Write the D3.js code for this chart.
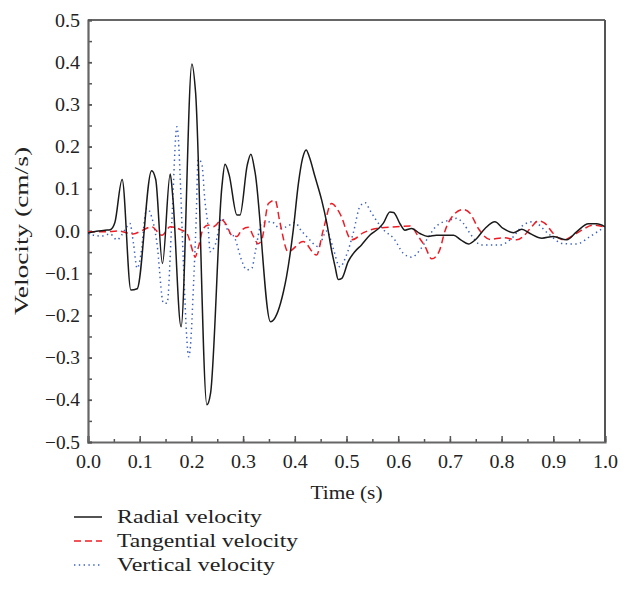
<!DOCTYPE html>
<html><head><meta charset="utf-8">
<script src="https://cdn.jsdelivr.net/npm/d3@7"></script>
<style>body{margin:0;background:#fff}svg{display:block}text{font-family:"Liberation Serif","DejaVu Serif",serif;fill:#222}</style>
</head><body><div id="chart"></div>
<script>
const radialT = [0,0.020,0.033,0.043,0.052,0.066,0.083,0.095,0.123,0.131,0.144,0.159,0.164,0.180,0.201,0.208,0.230,0.237,0.259,0.265,0.273,0.288,0.294,0.308,0.315,0.323,0.353,0.357,0.378,0.384,0.397,0.407,0.415,0.422,0.428,0.439,0.452,0.462,0.471,0.478,0.484,0.491,0.503,0.516,0.529,0.545,0.562,0.571,0.584,0.591,0.604,0.613,0.626,0.642,0.658,0.674,0.707,0.721,0.736,0.749,0.768,0.787,0.803,0.823,0.839,0.855,0.878,0.900,0.926,0.945,0.968,0.984,1.000];
const radialV = [-0.005,0.000,0.002,0.003,0.02,0.122,-0.14,-0.137,0.143,0.122,-0.077,0.135,0.081,-0.227,0.396,0.33,-0.412,-0.385,0.105,0.158,0.133,0.038,0.038,0.156,0.182,0.14,-0.215,-0.213,-0.144,-0.108,0.002,0.113,0.172,0.192,0.176,0.129,0.073,0.018,-0.045,-0.085,-0.115,-0.112,-0.073,-0.049,-0.033,-0.01,0.006,0.018,0.045,0.044,0.016,0.002,0.006,-0.006,-0.013,-0.01,-0.01,-0.021,-0.031,-0.021,0.006,0.022,0.006,-0.004,0.004,-0.006,-0.017,-0.013,-0.021,-0.002,0.017,0.017,0.01];

const tangT = [0,0.033,0.058,0.087,0.106,0.123,0.143,0.159,0.181,0.191,0.204,0.207,0.213,0.223,0.233,0.242,0.259,0.268,0.278,0.288,0.297,0.310,0.320,0.329,0.336,0.349,0.362,0.371,0.387,0.416,0.442,0.455,0.471,0.487,0.510,0.533,0.558,0.597,0.623,0.639,0.652,0.665,0.679,0.691,0.707,0.726,0.739,0.755,0.778,0.803,0.829,0.842,0.858,0.871,0.884,0.900,0.919,0.935,0.955,0.977,1.0];
const tangV = [-0.002,-0.002,0.0,-0.007,0.002,0.01,-0.01,0.01,0.002,-0.005,-0.053,-0.062,-0.041,0.006,0.014,0.01,0.026,0.014,-0.01,-0.013,0.002,0.009,-0.013,-0.03,-0.021,0.065,0.073,0.022,-0.049,-0.025,-0.057,0.002,0.065,0.042,-0.021,-0.004,0.006,0.01,0.012,-0.013,-0.037,-0.066,-0.049,0.002,0.038,0.051,0.042,0.006,-0.02,-0.016,-0.021,-0.013,0.01,0.024,0.018,-0.006,-0.021,-0.013,0.002,0.014,0.009];

const vertT = [0,0.026,0.043,0.056,0.065,0.075,0.081,0.088,0.095,0.104,0.110,0.114,0.123,0.133,0.146,0.153,0.162,0.172,0.175,0.178,0.184,0.195,0.198,0.204,0.209,0.213,0.220,0.226,0.233,0.236,0.246,0.259,0.271,0.284,0.297,0.307,0.317,0.323,0.336,0.355,0.371,0.384,0.400,0.413,0.426,0.445,0.462,0.474,0.487,0.500,0.513,0.526,0.536,0.545,0.555,0.574,0.591,0.610,0.626,0.642,0.655,0.674,0.700,0.713,0.726,0.739,0.761,0.781,0.797,0.820,0.842,0.861,0.890,0.919,0.945,0.971,1.0];
const vertV = [-0.007,-0.012,-0.007,-0.021,-0.01,0.01,0.018,-0.03,-0.088,-0.04,0.034,0.054,0.034,-0.025,-0.171,-0.171,0.02,0.247,0.216,0.137,-0.06,-0.298,-0.275,-0.13,0.02,0.17,0.16,0.073,0.0,-0.049,-0.033,0.03,0.0,-0.017,-0.069,-0.092,-0.088,-0.053,0.018,0.022,0.006,0.01,0.02,0.0,-0.017,-0.037,0.0,-0.04,-0.085,-0.057,-0.005,0.058,0.067,0.05,0.03,0.0,-0.017,-0.053,-0.062,-0.045,-0.021,0.012,0.026,0.03,0.018,-0.006,-0.033,-0.033,-0.033,-0.017,0.014,0.022,-0.006,-0.03,-0.031,-0.013,0.01];

const xTicks = [0,0.1,0.2,0.3,0.4,0.5,0.6,0.7,0.8,0.9,1.0];
const yTicks = [-0.5,-0.4,-0.3,-0.2,-0.1,0,0.1,0.2,0.3,0.4,0.5];
const seriesNames = ["Radial velocity","Tangential velocity","Vertical velocity"];

const W = 628, H = 601;
const m = {left: 88, top: 20, right: 23, bottom: 159};
const svg = d3.select("#chart").append("svg").attr("width", W).attr("height", H);
const x = d3.scaleLinear().domain([0,1]).range([m.left, W - m.right]);
const y = d3.scaleLinear().domain([-0.5,0.5]).range([H - m.bottom, m.top]);
const fmt = v => (v < 0 ? "\u2212" : "") + Math.abs(v).toFixed(1);

// frame top and right
svg.append("line").attr("x1", x(0)).attr("x2", x(1)).attr("y1", y(0.5)).attr("y2", y(0.5)).attr("stroke", "#333").attr("stroke-width", 1.5);
svg.append("line").attr("x1", x(1)).attr("x2", x(1)).attr("y1", y(0.5)).attr("y2", y(-0.5)).attr("stroke", "#555").attr("stroke-width", 2);

// X axis (ticks inward)
const xMinor = d3.range(0, 1.0001, 0.05);
const gx = svg.append("g").attr("transform", `translate(0,${y(-0.5)})`);
gx.call(d3.axisBottom(x).tickValues(xMinor).tickSize(-3).tickFormat(""));
gx.selectAll(".tick line").attr("stroke", "#555").attr("stroke-width", 1.5);
gx.select(".domain").remove();
const gx2 = svg.append("g").attr("transform", `translate(0,${y(-0.5)})`);
gx2.call(d3.axisBottom(x).tickValues(xTicks).tickSize(-6).tickPadding(13).tickFormat(d => d.toFixed(1)));
gx2.selectAll(".tick line").attr("stroke", "#555").attr("stroke-width", 1.5);
gx2.selectAll("text").attr("font-size", 19).attr("font-family", "Liberation Serif").attr("fill", "#222")
   .attr("textLength", 25).attr("lengthAdjust", "spacingAndGlyphs");
gx2.select(".domain").attr("stroke", "#666").attr("stroke-width", 2.2);

// Y axis
const yMinor = d3.range(-0.5, 0.5001, 0.05);
const gy = svg.append("g").attr("transform", `translate(${x(0)},0)`);
gy.call(d3.axisLeft(y).tickValues(yMinor).tickSize(-4).tickFormat(""));
gy.selectAll(".tick line").attr("stroke", "#555").attr("stroke-width", 1.5);
gy.select(".domain").remove();
const gy2 = svg.append("g").attr("transform", `translate(${x(0)},0)`);
gy2.call(d3.axisLeft(y).tickValues(yTicks).tickSize(-4).tickPadding(8).tickFormat(fmt));
gy2.selectAll(".tick line").attr("stroke", "#555").attr("stroke-width", 1.5);
gy2.selectAll("text").attr("font-size", 19).attr("font-family", "Liberation Serif").attr("fill", "#222")
   .attr("textLength", d => d < 0 ? 35 : 25).attr("lengthAdjust", "spacingAndGlyphs");
gy2.select(".domain").attr("stroke", "#666").attr("stroke-width", 2.2);

// titles
svg.append("text").attr("x", (x(0)+x(1))/2).attr("y", 499).attr("text-anchor", "middle").attr("font-size", 19)
  .attr("textLength", 72).attr("lengthAdjust", "spacingAndGlyphs").text("Time (s)");
svg.append("text").attr("transform", `translate(28,${(y(0.5)+y(-0.5))/2}) rotate(-90)`).attr("text-anchor", "middle").attr("font-size", 19)
  .attr("textLength", 168).attr("lengthAdjust", "spacingAndGlyphs").text("Velocity (cm/s)");

// lines
svg.append("clipPath").attr("id", "c").append("rect").attr("x", x(0)).attr("y", y(0.5)).attr("width", x(1)-x(0)).attr("height", y(-0.5)-y(0.5));
const line = d3.line().x(d => x(d[0])).y(d => y(d[1])).curve(d3.curveMonotoneX);
const series = [
  {t: radialT, v: radialV, color: "#1a1a1a", dash: null, w: 1.5},
  {t: tangT, v: tangV, color: "#ee1c25", dash: "7,4", w: 1.5},
  {t: vertT, v: vertV, color: "#3a5fc0", dash: "1.4,3.4", w: 1.5}
];
[2, 1, 0].forEach(i => {
  const s = series[i];
  svg.append("path").attr("clip-path", "url(#c)")
    .datum(s.t.map((t, k) => [t, s.v[k]]))
    .attr("d", line).attr("fill", "none")
    .attr("stroke", s.color).attr("stroke-width", s.w)
    .attr("stroke-dasharray", s.dash);
});

// legend
const legendLen = [145, 181, 158];
const lg = svg.append("g");
seriesNames.forEach((name, i) => {
  const s = series[i];
  const yy = 517 + i * 24;
  lg.append("line").attr("x1", 74).attr("x2", 102).attr("y1", yy).attr("y2", yy)
    .attr("stroke", s.color).attr("stroke-width", s.w).attr("stroke-dasharray", s.dash);
  lg.append("text").attr("x", 117).attr("y", yy + 6).attr("font-size", 19)
    .attr("textLength", legendLen[i]).attr("lengthAdjust", "spacingAndGlyphs").text(name);
});
</script></body></html>
